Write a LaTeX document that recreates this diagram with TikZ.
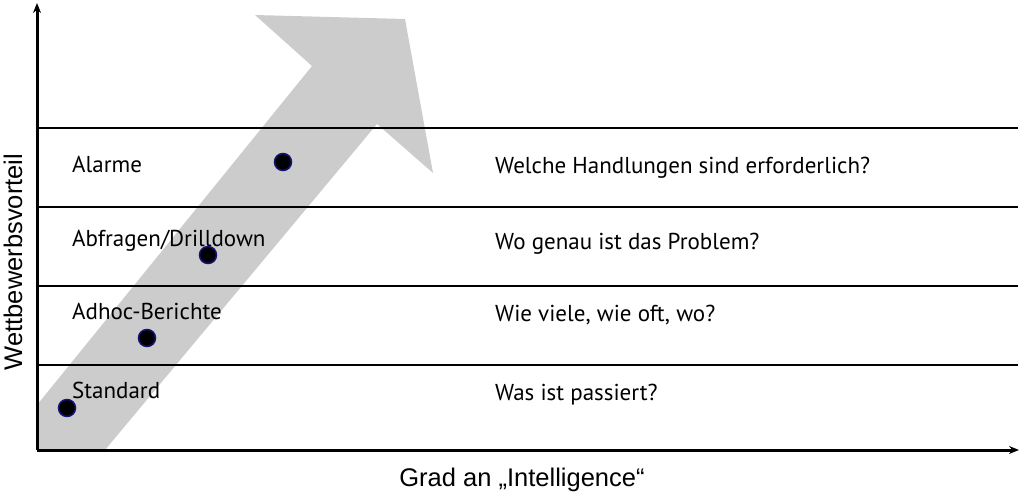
\documentclass[tikz,border=0pt]{standalone}
\usepackage{fontspec}
\setmainfont{PT Sans}
\newfontfamily\arialfont{Liberation Sans}
\usetikzlibrary{arrows.meta}
\definecolor{arrowgray}{RGB}{204,204,204}
\definecolor{dotblue}{RGB}{20,20,120}
\begin{document}
\begin{tikzpicture}[x=1pt,y=-1pt,
  lbl/.style={anchor=base west, inner sep=0pt, font=\fontsize{23}{27}\selectfont},
  dotnode/.style={circle, fill=black, draw=dotblue, line width=1.5pt, minimum size=17pt, inner sep=0pt},
  gridline/.style={line width=1.3pt},
  topline/.style={line width=2pt},
  axisline/.style={line width=3pt, -{Stealth[length=10pt,width=8pt]}},
  axislabel/.style={font=\arialfont\fontsize{25.5}{28}\selectfont, inner sep=0pt},
]
\useasboundingbox (0,0) rectangle (1024,497);
% big grey arrow
\fill[arrowgray] (37,405) -- (312,66) -- (255,15) -- (405,19) -- (433,173) -- (377,124) -- (105,450) -- (37,450) -- cycle;
% coordinates
\coordinate (o) at (37,450);
\coordinate (ytip) at (37,3);
\coordinate (xtip) at (1019,450);
\coordinate (l1) at (37,128);  \coordinate (r1) at (1018,128);
\coordinate (l2) at (37,207);  \coordinate (r2) at (1018,207);
\coordinate (l3) at (37,286);  \coordinate (r3) at (1018,286);
\coordinate (l4) at (37,365);  \coordinate (r4) at (1018,365);
% grid lines
\draw[topline] (l1) -- (r1);
\draw[gridline] (l2) -- (r2);
\draw[gridline] (l3) -- (r3);
\draw[gridline] (l4) -- (r4);
% axes
\draw[axisline] (o) -- (ytip);
\draw[axisline] (o) -- (xtip);
% left labels
\node[lbl] (alarme) at (72,172) {Alarme};
\node[lbl] (abfragen) at (72,246) {Abfragen/Drilldown};
\node[lbl] (adhoc) at (72,319) {Adhoc-Berichte};
\node[lbl] (standard) at (72,398) {Standard};
% right labels
\node[lbl] (q1) at (495,174) {Welche Handlungen sind erforderlich?};
\node[lbl] (q2) at (495,249) {Wo genau ist das Problem?};
\node[lbl] (q3) at (495,321) {Wie viele, wie oft, wo?};
\node[lbl] (q4) at (495,400) {Was ist passiert?};
% dots
\node[dotnode] (d1) at (67,408) {};
\node[dotnode] (d2) at (147,338) {};
\node[dotnode] (d3) at (208,255) {};
\node[dotnode] (d4) at (283,162) {};
% axis labels
\node[axislabel, rotate=90] (ylab) at (13,262) {Wettbewerbsvorteil};
\node[axislabel] (xlab) at (522,480) {Grad an „Intelligence“};
\end{tikzpicture}
\end{document}
